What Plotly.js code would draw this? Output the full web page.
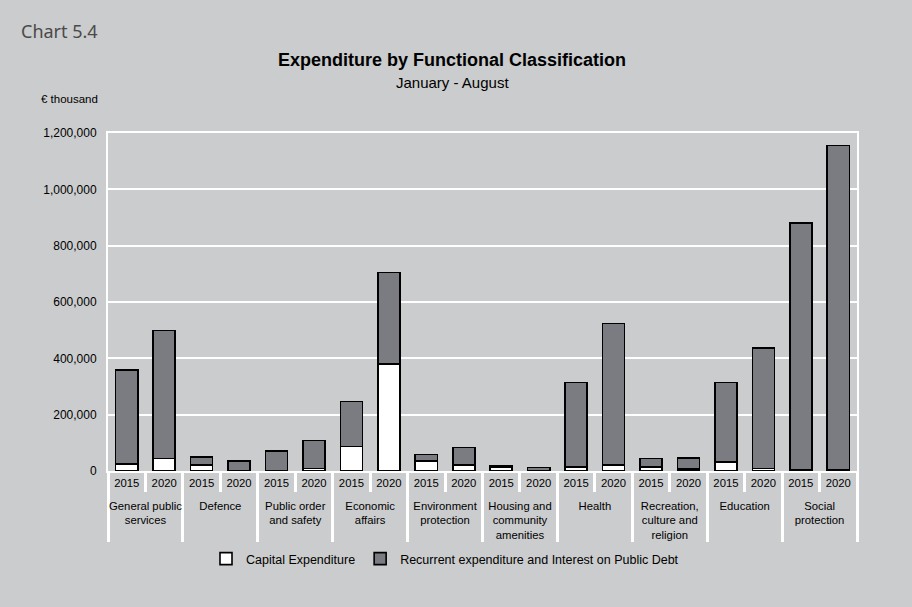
<!DOCTYPE html>
<html>
<head>
<meta charset="utf-8">
<script src="https://cdn.plot.ly/plotly-3.0.1.min.js"></script>
<style>
  html, body { margin: 0; padding: 0; background: #cbcccd; }
  #chart { width: 912px; height: 607px; }
</style>
</head>
<body>
<div id="chart"></div>
<script>
// Functional groups (display labels, wrapped)
const groups = [
  "General public<br>services",
  "Defence",
  "Public order<br>and safety",
  "Economic<br>affairs",
  "Environment<br>protection",
  "Housing and<br>community<br>amenities",
  "Health",
  "Recreation,<br>culture and<br>religion",
  "Education",
  "Social<br>protection"
];
const years = ["2015", "2020"];

// € thousand, [2015, 2020] per group, in group order
const capital2015 = [25000, 21000, 1000, 87000, 36000, 14000, 15000, 15000, 32000, 3000];
const capital2020 = [45000, 1000, 9000, 379000, 21000, 1000, 22000, 8000, 9000, 3000];
const total2015   = [358000, 49000, 70000, 247000, 58000, 17000, 314000, 44000, 314000, 880000];
const total2020   = [499000, 35000, 109000, 705000, 83000, 13000, 523000, 46000, 437000, 1156000];

// tall, nearly zero-width spacers around the year labels, to push the group labels down a bit
const pad = "<span style='font-size:18.5px'>\u200a</span>";

const xGroup = [], xYear = [], capVals = [], recVals = [];
groups.forEach((g, i) => {
  xGroup.push(g, g);
  xYear.push(pad + years[0] + pad, pad + years[1] + pad);
  capVals.push(capital2015[i], capital2020[i]);
  recVals.push(total2015[i] - capital2015[i], total2020[i] - capital2020[i]);
});

const traces = [
  {
    type: "bar",
    name: "Capital Expenditure",
    x: [xGroup, xYear],
    y: capVals,
    marker: { color: "#ffffff", line: { color: "#000000", width: 1.6 } },
    hoverinfo: "skip"
  },
  {
    type: "bar",
    name: "Recurrent expenditure and Interest on Public Debt",
    x: [xGroup, xYear],
    y: recVals,
    marker: { color: "#7b7c81", line: { color: "#000000", width: 1.6 } },
    hoverinfo: "skip"
  }
];

const layout = {
  width: 912,
  height: 607,
  paper_bgcolor: "#cbcccd",
  plot_bgcolor: "#cbcccd",
  font: { family: "Liberation Sans, Arial, sans-serif", color: "#000000", size: 11 },
  margin: { l: 108, r: 55, t: 133, b: 136 },
  barmode: "stack",
  bargap: 0.41,
  showlegend: true,
  title: {
    text: "<b>Expenditure by Functional Classification</b>",
    font: { family: "Liberation Sans, Arial, sans-serif", size: 18, color: "#000000" },
    x: 452 / 912, xanchor: "center", xref: "container",
    y: 1 - 60 / 607, yanchor: "middle", yref: "container"
  },
  legend: {
    orientation: "h",
    xref: "container", yref: "container",
    x: 445 / 912, xanchor: "center",
    y: 1 - 559 / 607, yanchor: "middle",
    font: { size: 12.5, family: "Liberation Sans, Arial, sans-serif" },
    bgcolor: "rgba(0,0,0,0)",
    traceorder: "normal",
    itemwidth: 30
  },
  xaxis: {
    type: "multicategory",
    showline: true, linecolor: "#ffffff", linewidth: 2, mirror: true,
    ticks: "outside", ticklen: 19, tickcolor: "#ffffff", tickwidth: 3,
    showdividers: true, dividercolor: "#ffffff", dividerwidth: 3,
    tickfont: { size: 11.3, family: "Liberation Sans, Arial, sans-serif", color: "#000" },
    tickangle: 0,
    showgrid: false, zeroline: false, fixedrange: true
  },
  yaxis: {
    range: [0, 1200000],
    dtick: 200000,
    tick0: 0,
    tickformat: ",d",
    showgrid: true, gridcolor: "#ffffff", gridwidth: 2,
    showline: true, linecolor: "#ffffff", linewidth: 2, mirror: true,
    zeroline: false,
    ticks: "", ticklen: 0,
    ticklabelstandoff: 7,
    tickfont: { size: 12, family: "Liberation Sans, Arial, sans-serif", color: "#000" },
    fixedrange: true
  },
  annotations: [
    {
      text: "January - August",
      xref: "paper", yref: "paper",
      x: (452 - 108) / (912 - 108 - 55), y: 1 + (133 - 82) / (607 - 133 - 136),
      xanchor: "center", yanchor: "middle", showarrow: false,
      font: { size: 15, family: "Liberation Sans, Arial, sans-serif", color: "#000" }
    },
    {
      text: "Chart 5.4",
      xref: "paper", yref: "paper",
      x: (19 - 108) / (912 - 108 - 55), y: 1 + (133 - 31) / (607 - 133 - 136),
      xanchor: "left", yanchor: "middle", showarrow: false,
      font: { size: 18, family: "Noto Sans, sans-serif", color: "#4a4a4a" }
    },
    {
      text: "€ thousand",
      xref: "paper", yref: "paper",
      x: (39 - 108) / (912 - 108 - 55), y: 1 + (133 - 99) / (607 - 133 - 136),
      xanchor: "left", yanchor: "middle", showarrow: false,
      font: { size: 11.5, family: "Liberation Sans, Arial, sans-serif", color: "#000" }
    }
  ]
};

Plotly.newPlot("chart", traces, layout, { displayModeBar: false, staticPlot: true });
</script>
</body>
</html>
